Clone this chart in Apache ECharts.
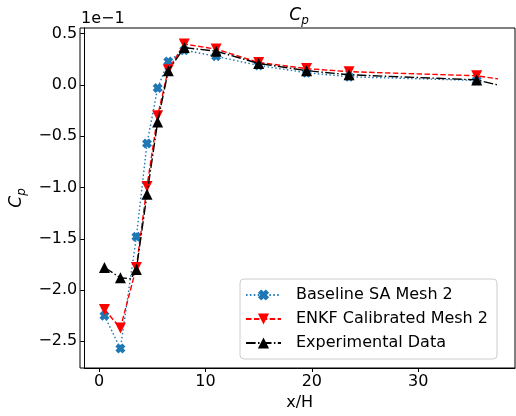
<!DOCTYPE html>
<html>
<head>
<meta charset="utf-8">
<script src="https://cdn.jsdelivr.net/npm/echarts@6/dist/echarts.min.js"></script>
<style>html,body{margin:0;padding:0;background:#fff}#c{width:516px;height:416px}</style>
</head>
<body>
<div id="c"></div>
<script>
// Values in units of 1e-1 (as shown on the y axis)
var xStations = [0.5, 2.0, 3.5, 4.5, 5.5, 6.5, 8.0, 11.0, 15.0, 19.5, 23.5, 35.5];
var baselineSA = [-2.25, -2.57, -1.48, -0.57, -0.03, 0.23, 0.34, 0.28, 0.19, 0.12, 0.08, 0.045];
var enkfCalibrated = [-2.19, -2.37, -1.78, -0.99, -0.30, 0.15, 0.40, 0.35, 0.22, 0.16, 0.13, 0.09];
var experimental = [-1.78, -1.88, -1.80, -1.065, -0.36, 0.14, 0.365, 0.33, 0.21, 0.14, 0.10, 0.05];
// line-only points (no marker)
var enkfExtraX = [37.5], enkfExtraY = [0.06];
var expExtraX = [3.0, 37.5], expExtraY = [-1.89, 0.0];
var xTicks = [0, 10, 20, 30];
var yTicks = [-2.5, -2.0, -1.5, -1.0, -0.5, 0.0, 0.5];

function build(xs, ys, exX, exY) {
  var pts = xs.map(function (x, i) { return {value: [x, ys[i]]}; });
  exX.forEach(function (x, i) { pts.push({value: [x, exY[i]], symbol: 'none'}); });
  pts.sort(function (a, b) { return a.value[0] - b.value[0]; });
  return pts;
}

var FONT = 'DejaVu Sans';
var xPath = 'path://M0.3,0 L0.5,0.2 L0.7,0 L1,0.3 L0.8,0.5 L1,0.7 L0.7,1 L0.5,0.8 L0.3,1 L0,0.7 L0.2,0.5 L0,0.3 Z';
function fmt(v) {
  var s = Math.abs(v).toFixed(1);
  return v < 0 ? '\u2212' + s : s;
}
var sub = {
  c: {fontFamily: FONT, fontStyle: 'italic', fontWeight: 'normal', fontSize: 17, color: '#000', lineHeight: 22},
  p: {fontFamily: FONT, fontStyle: 'italic', fontWeight: 'normal', fontSize: 12, color: '#000', verticalAlign: 'bottom', lineHeight: 12, padding: [6, 0, 0, 0]}
};

var chart = echarts.init(document.getElementById('c'), null, {renderer: 'canvas'});
chart.setOption({
  animation: false,
  title: {
    text: '{c|C}{p|p}', left: 294, top: 0, textAlign: 'center',
    textStyle: {fontWeight: 'normal', rich: sub}
  },
  grid: {left: 80, right: 1, top: 28, bottom: 48, containLabel: false},
  xAxis: {
    type: 'value', min: -1.4, max: 39.1,
    name: 'x/H', nameLocation: 'middle', nameGap: 15,
    nameTextStyle: {fontFamily: FONT, fontSize: 16, color: '#000'},
    splitLine: {show: false},
    axisLine: {show: true, onZero: false, lineStyle: {color: '#000', width: 1}},
    axisTick: {show: true, length: 4, lineStyle: {color: '#000'}, customValues: xTicks},
    axisLabel: {fontFamily: FONT, fontSize: 16, color: '#000', margin: 6, customValues: xTicks,
      formatter: function (v) { return String(v); }}
  },
  yAxis: {
    type: 'value', min: -2.76, max: 0.556,
    name: '{c|C}{p|p}', nameLocation: 'middle', nameGap: 48, nameRotate: 90,
    nameTextStyle: {fontWeight: 'normal', rich: sub},
    splitLine: {show: false},
    axisLine: {show: true, onZero: false, lineStyle: {color: '#000', width: 1}},
    axisTick: {show: true, length: 4, lineStyle: {color: '#000'}, customValues: yTicks},
    axisLabel: {fontFamily: FONT, fontSize: 16, color: '#000', margin: 7, customValues: yTicks,
      formatter: function (v) { return fmt(v); }}
  },
  graphic: [
    {type: 'rect', shape: {x: 80, y: 28, width: 435, height: 340}, style: {fill: 'none', stroke: '#000', lineWidth: 1}, silent: true, z: 50},
    {type: 'text', left: 81, top: 11, style: {text: '1e\u22121', fontFamily: FONT, fontSize: 16, fill: '#000'}}
  ],
  legend: {
    orient: 'vertical', left: 240, top: 279,
    padding: [8, 9, 8, 5], itemGap: 8, itemWidth: 35, itemHeight: 14,
    backgroundColor: 'rgba(255,255,255,0.8)', borderColor: '#cccccc', borderWidth: 1, borderRadius: 4,
    textStyle: {fontFamily: FONT, fontSize: 16, color: '#000', padding: [0, 0, 0, 10]},
    data: ['Baseline SA Mesh 2', 'ENKF Calibrated Mesh 2', 'Experimental Data']
  },
  series: [
    {
      name: 'Baseline SA Mesh 2', type: 'line', z: 2,
      data: build(xStations, baselineSA, [], []),
      symbol: xPath, symbolSize: 10,
      itemStyle: {color: '#1f77b4'},
      lineStyle: {color: '#1f77b4', width: 1.4, type: [1.5, 2.4]}
    },
    {
      name: 'ENKF Calibrated Mesh 2', type: 'line', z: 3,
      data: build(xStations, enkfCalibrated, enkfExtraX, enkfExtraY),
      symbol: 'triangle', symbolRotate: 180, symbolSize: 11,
      itemStyle: {color: '#ff0000'},
      lineStyle: {color: '#ff0000', width: 1.4, type: [5.5, 2.4]}
    },
    {
      name: 'Experimental Data', type: 'line', z: 4,
      data: build(xStations, experimental, expExtraX, expExtraY),
      symbol: 'triangle', symbolSize: 11,
      itemStyle: {color: '#000000'},
      lineStyle: {color: '#000000', width: 1.4, type: [9.6, 2.4, 1.5, 2.4]}
    }
  ]
});
</script>
</body>
</html>
